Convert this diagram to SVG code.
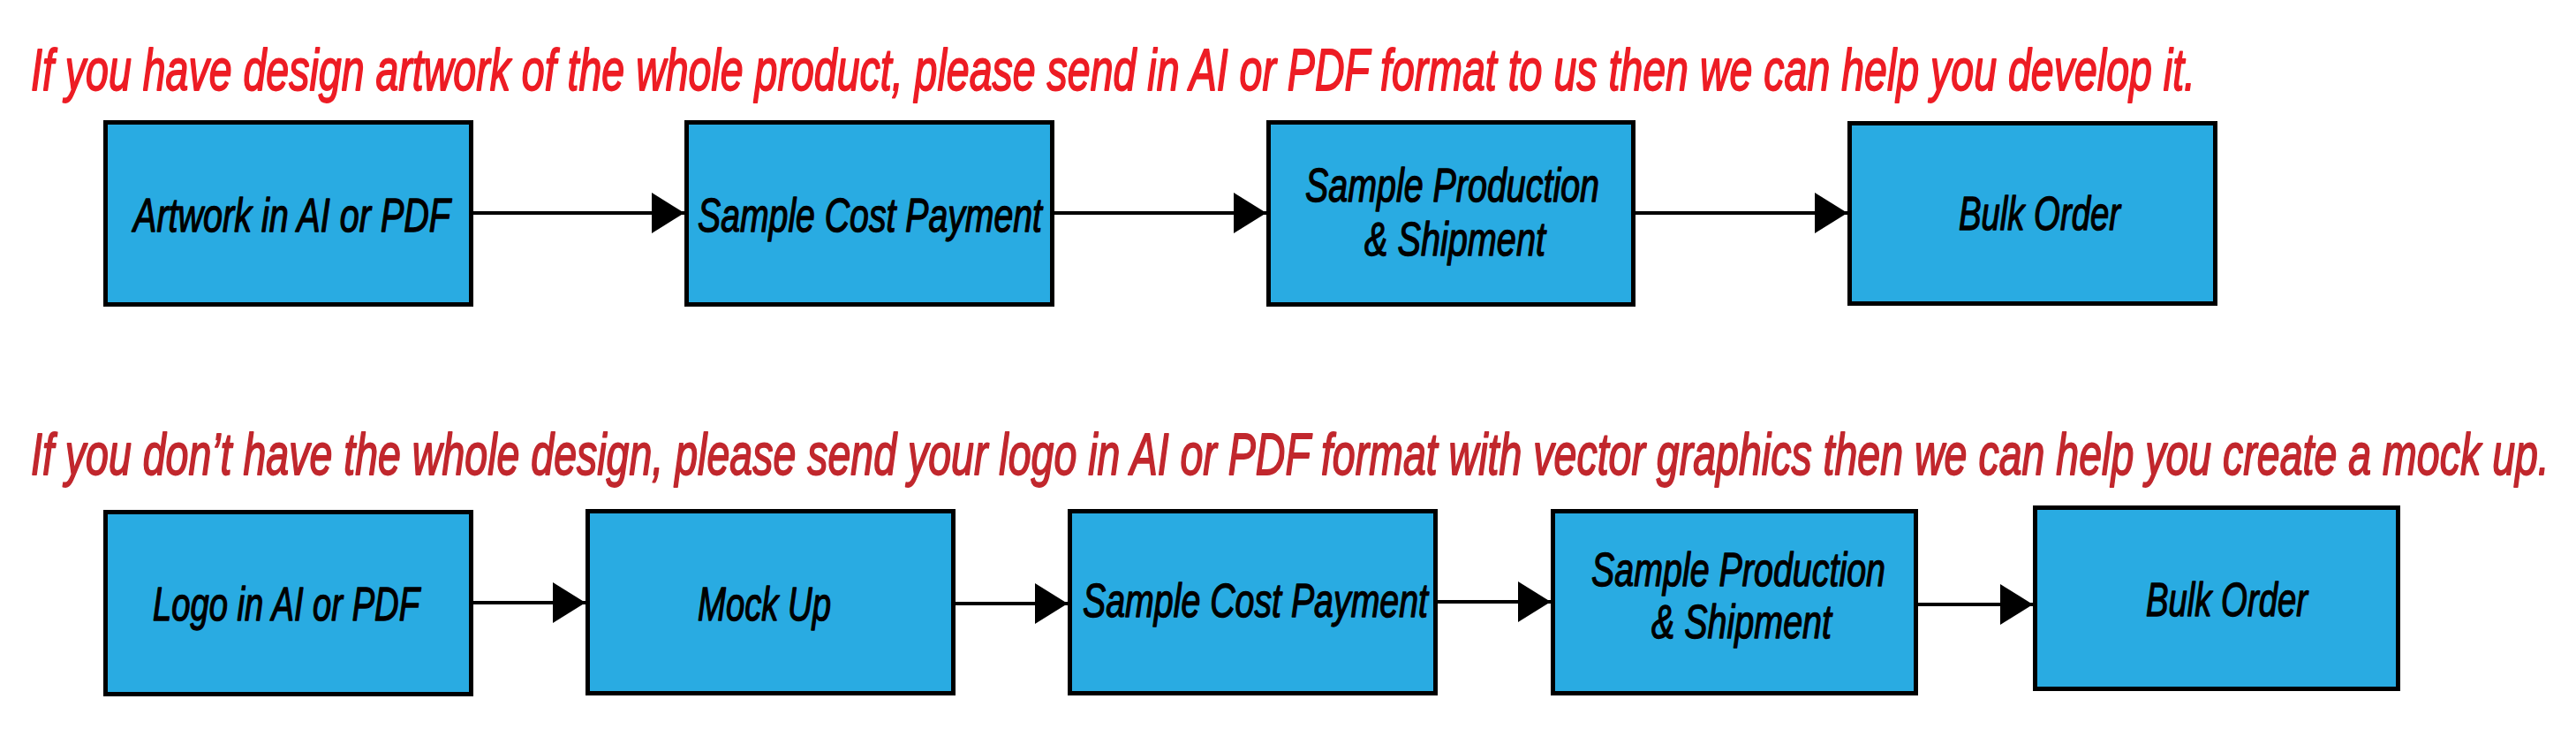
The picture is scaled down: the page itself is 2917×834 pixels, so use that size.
<svg xmlns="http://www.w3.org/2000/svg" width="2917" height="834" viewBox="0 0 2917 834">
<style>
.title{font-family:"Liberation Sans",Arial,sans-serif;font-style:italic;font-size:66px;stroke-width:1.8;stroke-linejoin:round}
.t1{fill:#ED1C24;stroke:#ED1C24}
.t2{fill:#C1272D;stroke:#C1272D}
.box{fill:#29ABE2;stroke:#000;stroke-width:5}
.lbl{font-family:"Liberation Sans",Arial,sans-serif;font-style:italic;font-size:54px;fill:#000;stroke:#000;stroke-width:1.4;stroke-linejoin:round}
.conn{stroke:#000;stroke-width:4;fill:none}
</style>
<defs>
<marker id="ah" markerUnits="userSpaceOnUse" markerWidth="38" markerHeight="48" refX="37" refY="24" orient="auto">
<path d="M0,1 L37,24 L0,47 Z" fill="#000"/>
</marker>
</defs>
<rect width="2917" height="834" fill="#fff"/>
<text class="title t1" transform="matrix(0.6 0 0 1 35 102)" x="0" y="0" textLength="4085" lengthAdjust="spacingAndGlyphs">If you have design artwork of the whole product, please send in AI or PDF format to us then we can help you develop it.</text>
<text class="title t2" transform="matrix(0.6 0 0 1 35 537)" x="0" y="0" textLength="4753" lengthAdjust="spacingAndGlyphs">If you don’t have the whole design, please send your logo in AI or PDF format with vector graphics then we can help you create a mock up.</text>
<g id="connectors">
<line class="conn" x1="536" y1="241" x2="775" y2="241" marker-end="url(#ah)"/>
<line class="conn" x1="1194" y1="241" x2="1434" y2="241" marker-end="url(#ah)"/>
<line class="conn" x1="1852" y1="241" x2="2092" y2="241" marker-end="url(#ah)"/>
<line class="conn" x1="536" y1="682" x2="663" y2="682" marker-end="url(#ah)"/>
<line class="conn" x1="1082" y1="683" x2="1209" y2="683" marker-end="url(#ah)"/>
<line class="conn" x1="1628" y1="681" x2="1756" y2="681" marker-end="url(#ah)"/>
<line class="conn" x1="2172" y1="684" x2="2302" y2="684" marker-end="url(#ah)"/>
</g>
<g id="r1n1"><rect class="box" x="119.5" y="138.5" width="414" height="206"/><text class="lbl" x="151" y="262" textLength="359" lengthAdjust="spacingAndGlyphs">Artwork in AI or PDF</text></g>
<g id="r1n2"><rect class="box" x="777.5" y="138.5" width="414" height="206"/><text class="lbl" x="790" y="262" textLength="390" lengthAdjust="spacingAndGlyphs">Sample Cost Payment</text></g>
<g id="r1n3"><rect class="box" x="1436.5" y="138.5" width="413" height="206"/><text class="lbl" x="1478" y="228" textLength="333" lengthAdjust="spacingAndGlyphs">Sample Production</text><text class="lbl" x="1545" y="289" textLength="205" lengthAdjust="spacingAndGlyphs">&amp; Shipment</text></g>
<g id="r1n4"><rect class="box" x="2094.5" y="139.5" width="414" height="204"/><text class="lbl" x="2218" y="260" textLength="183" lengthAdjust="spacingAndGlyphs">Bulk Order</text></g>
<g id="r2n1"><rect class="box" x="119.5" y="579.5" width="414" height="206"/><text class="lbl" x="173" y="702" textLength="302" lengthAdjust="spacingAndGlyphs">Logo in AI or PDF</text></g>
<g id="r2n2"><rect class="box" x="665.5" y="578.5" width="414" height="206"/><text class="lbl" x="790" y="702" textLength="151" lengthAdjust="spacingAndGlyphs">Mock Up</text></g>
<g id="r2n3"><rect class="box" x="1211.5" y="578.5" width="414" height="206"/><text class="lbl" x="1226" y="698" textLength="391" lengthAdjust="spacingAndGlyphs">Sample Cost Payment</text></g>
<g id="r2n4"><rect class="box" x="1758.5" y="578.5" width="411" height="206"/><text class="lbl" x="1802" y="663" textLength="333" lengthAdjust="spacingAndGlyphs">Sample Production</text><text class="lbl" x="1870" y="722" textLength="204" lengthAdjust="spacingAndGlyphs">&amp; Shipment</text></g>
<g id="r2n5"><rect class="box" x="2304.5" y="574.5" width="411" height="205"/><text class="lbl" x="2430" y="697" textLength="183" lengthAdjust="spacingAndGlyphs">Bulk Order</text></g>
</svg>
